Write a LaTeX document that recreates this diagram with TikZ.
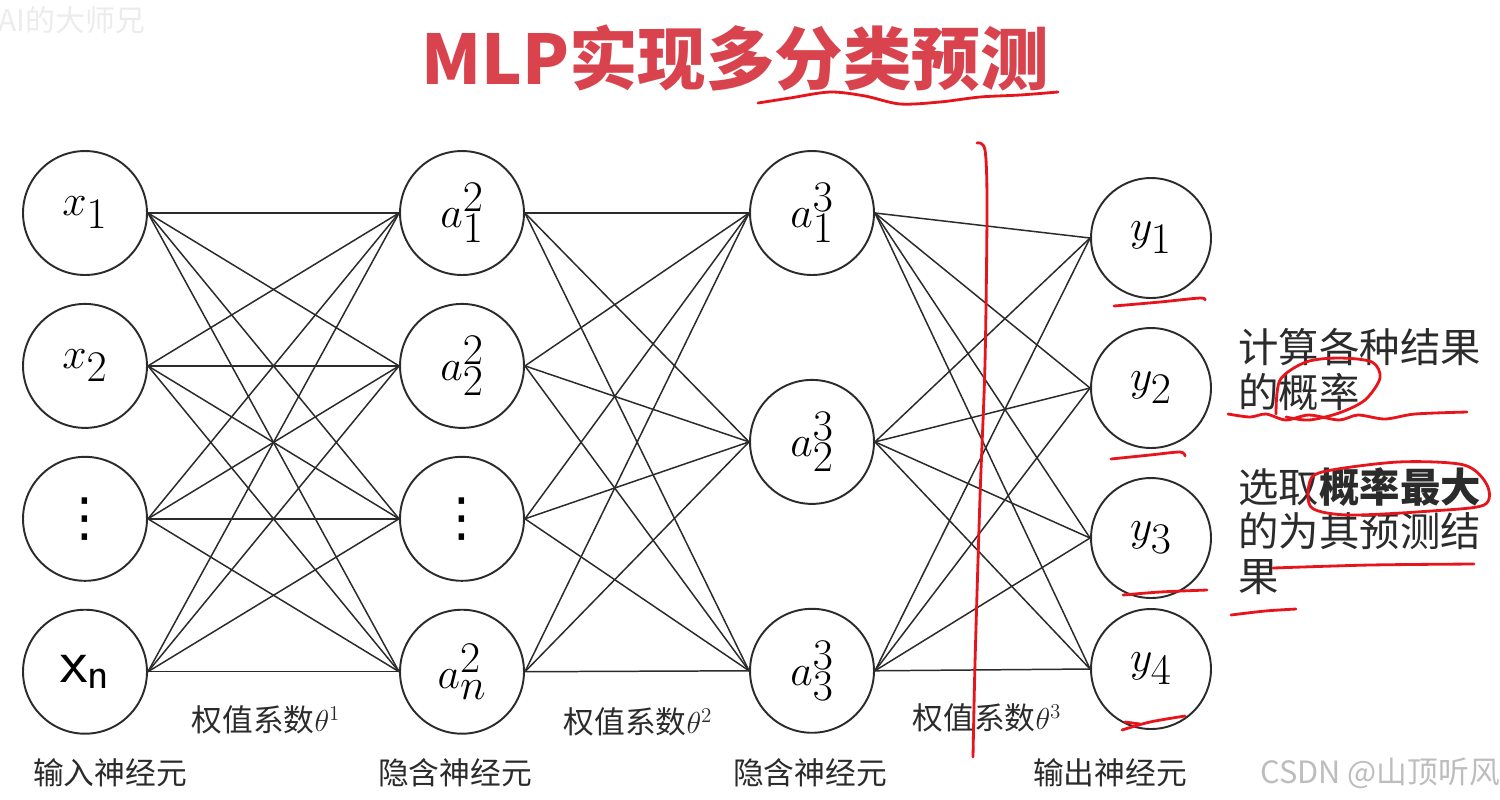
\documentclass[tikz,border=0pt]{standalone}
\usepackage{fontspec}
\newfontfamily\cjk{Noto Sans CJK SC}
\newfontfamily\symb{DejaVu Sans}
\usetikzlibrary{positioning}
\definecolor{ink}{HTML}{2B2B2B}
\definecolor{titlered}{HTML}{D8434E}
\definecolor{penred}{HTML}{E8141C}
\definecolor{mark}{HTML}{BDBDBD}
\newcommand{\moredots}{{\symb\fontsize{30}{34}\selectfont ⋮}}
\tikzset{
  neuron/.style   = {circle, draw=ink, line width=1.1pt, minimum size=2.48cm,
                    inner sep=0pt, text=black, font=\fontsize{36}{40}\selectfont},
  wire/.style     = {draw=ink, line width=0.85pt},
  layername/.style= {text=ink, font=\cjk\fontsize{17.5}{20}\selectfont},
  note/.style     = {text=ink, anchor=north west, inner sep=0pt, align=left,
                    font=\cjk\fontsize{23}{25.5}\selectfont},
  scribble/.style = {draw=penred, line width=1.6pt, line cap=round, line join=round},
}
\begin{document}
\begin{tikzpicture}[x=0.02cm, y=-0.02cm, node distance=0.54cm]
  \useasboundingbox (0,0) rectangle (1500,799);

  % ----- title -----
  \node[font=\cjk\bfseries\fontsize{39}{44}\selectfont, text=titlered] (title) at (735,58) {MLP实现多分类预测};
  \node[font=\cjk\fontsize{17}{20}\selectfont, text=gray!15] (wm) at (72,20) {AI的大师兄};

  % ----- input layer -----
  \node[neuron] (x1) at (85,213) {$x_1$};
  \node[neuron, below=of x1] (x2) {$x_2$};
  \node[neuron, below=of x2] (x3) {\moredots};
  \node[neuron, below=of x3] (x4) {\textsf{x}\textsubscript{\textsf{n}}};

  % ----- hidden layer 1 -----
  \node[neuron] (h1) at (462,213) {$a_1^2$};
  \node[neuron, below=of h1] (h2) {$a_2^2$};
  \node[neuron, below=of h2] (h3) {\moredots};
  \node[neuron, below=of h3] (h4) {$a_n^2$};

  % ----- hidden layer 2 -----
  \node[neuron] (g1) at (812,213) {$a_1^3$};
  \node[neuron, below=2.06cm of g1] (g2) {$a_2^3$};
  \node[neuron, below=2.06cm of g2] (g3) {$a_3^3$};

  % ----- output layer -----
  \node[neuron, minimum size=2.4cm] (y1) at (1151,238) {$y_1$};
  \node[neuron, minimum size=2.4cm] (y2) at (1151,388) {$y_2$};
  \node[neuron, minimum size=2.4cm] (y3) at (1151,538) {$y_3$};
  \node[neuron, minimum size=2.4cm] (y4) at (1151,669) {$y_4$};

  % ----- weights -----
  \foreach \i in {1,...,4} \foreach \j in {1,...,4} \draw[wire] (x\i.east) -- (h\j.west);
  \foreach \i in {1,...,4} \foreach \j in {1,...,3} \draw[wire] (h\i.east) -- (g\j.west);
  \foreach \i in {1,...,3} \foreach \j in {1,...,4} \draw[wire] (g\i.east) -- (y\j.west);

  % ----- labels -----
  \node[layername] (w1) at (266,720) {权值系数$\theta^1$};
  \node[layername] (w2) at (638,722) {权值系数$\theta^2$};
  \node[layername] (w3) at (987,718) {权值系数$\theta^3$};
  \node[layername] (in)  at (110,773) {输入神经元};
  \node[layername] (hid1) at (455,773) {隐含神经元};
  \node[layername] (hid2) at (810,773) {隐含神经元};
  \node[layername] (out) at (1110,773) {输出神经元};
  \node[layername, text=mark] (csdn) at (1380,773) {CSDN @山顶听风};

  % ----- notes -----
  \node[note] (calc) at (1238,328) {计算各种结果\\的概率};
  \node[note] (pick) at (1238,467) {选取\textbf{概率最大}\\的为其预测结\\果};

  % ----- red pen marks -----
  \draw[scribble] plot[smooth] coordinates {(758,103) (790,98) (830,92) (865,96) (900,104) (940,102) (980,97) (1020,95) (1058,92)};
  \draw[scribble] plot[smooth] coordinates {(977,143) (985,150) (987,207) (985,363) (980,497) (975,663) (973,757)};
  \draw[scribble] plot[smooth] coordinates {(1114,306) (1160,302) (1200,298) (1205,300)};
  \draw[scribble] plot[smooth] coordinates {(1111,459) (1150,455) (1180,452) (1185,456)};
  \draw[scribble] plot[smooth] coordinates {(1123,595) (1160,592) (1207,590)};
  \draw[scribble] plot[smooth] coordinates {(1122,730) (1150,722) (1185,716)};
  \draw[scribble] plot[smooth] coordinates {(1125,722) (1140,724)};
  \draw[scribble] plot[smooth] coordinates {(1228,414) (1250,417) (1266,414) (1286,420) (1309,415) (1339,420) (1358,415) (1385,419) (1415,414) (1467,412)};
  \draw[scribble] plot[smooth] coordinates {(1276,414) (1280,380) (1306,362) (1339,358) (1372,362) (1380,378) (1365,400) (1339,413) (1309,420) (1286,417)};
  \draw[scribble] plot[smooth cycle] coordinates {(1322,472) (1398,462) (1464,465) (1487,485) (1484,505) (1431,511) (1349,515) (1312,508) (1309,485)};
  \draw[scribble] plot[smooth] coordinates {(1273,568) (1370,565) (1474,564)};
  \draw[scribble] plot[smooth] coordinates {(1231,615) (1265,611) (1296,609)};
\end{tikzpicture}
\end{document}
